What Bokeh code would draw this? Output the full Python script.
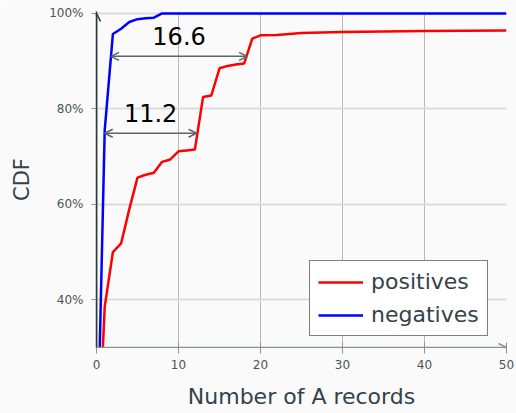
from bokeh.plotting import figure
from bokeh.models import (ColumnDataSource, Arrow, OpenHead, FixedTicker, NumeralTickFormatter,
                          Legend, LegendItem, LabelSet, Range1d)
from bokeh.core.properties import value
from bokeh.embed import file_html
from bokeh.resources import INLINE

# ---- data ----
pos_x = [0, 1, 2, 3, 4, 5, 6, 7, 8, 9, 10, 11, 12, 13, 14, 15, 16, 17, 18, 19, 20, 22, 25, 30, 40, 50]
pos_y = [0.0, 0.385, 0.50, 0.518, 0.59, 0.656, 0.662, 0.666, 0.689, 0.694, 0.711, 0.713, 0.715,
         0.825, 0.828, 0.885, 0.890, 0.893, 0.895, 0.947, 0.954, 0.955, 0.959, 0.961, 0.963, 0.964]
neg_x = [0, 1, 2, 3, 4, 5, 6, 7, 8, 50]
neg_y = [0.0, 0.755, 0.957, 0.968, 0.982, 0.988, 0.990, 0.991, 1.0, 1.0]

gap_labels = ["11.2", "16.6"]
gap_values = [11.2, 16.6]
gap_start = [1.0, 1.77]
gap_level = [0.749, 0.910]

x_ticks = [0, 10, 20, 30, 40, 50]
y_ticks = [0.4, 0.6, 0.8, 1.0]
x_lo, x_hi = 0, 50
y_lo, y_hi = 0.3, 1.004

FONT = "DejaVu Sans"
BG = "#fafafa"
TXT = "#34424a"

p = figure(width=516, height=413, output_backend="svg", toolbar_location=None,
           x_range=Range1d(x_lo, x_hi), y_range=Range1d(y_lo, y_hi),
           min_border_left=96, min_border_right=10, min_border_top=11, min_border_bottom=66,
           background_fill_color=BG, border_fill_color=BG)
p.outline_line_color = None

# grid
p.xgrid.ticker = FixedTicker(ticks=x_ticks)
p.ygrid.ticker = FixedTicker(ticks=y_ticks)
p.xgrid.grid_line_color = "#b8b8b8"
p.xgrid.grid_line_width = 1
p.ygrid.grid_line_color = "#dcdcdc"
p.ygrid.grid_line_width = 2

# axes
p.xaxis.ticker = FixedTicker(ticks=x_ticks)
p.yaxis.ticker = FixedTicker(ticks=y_ticks)
p.yaxis.formatter = NumeralTickFormatter(format="0%")
p.xaxis.axis_label = "Number of A records"
p.yaxis.axis_label = "CDF"
for ax in (p.xaxis[0], p.yaxis[0]):
    ax.axis_label_text_font = FONT
    ax.axis_label_text_font_style = "normal"
    ax.axis_label_text_color = TXT
    ax.major_label_text_font = FONT
    ax.major_label_text_font_size = "12px"
    ax.major_label_text_color = "#4a5656"
    ax.minor_tick_line_color = None
    ax.major_tick_line_color = "#8a9494"
p.xaxis.axis_label_text_font_size = "22px"
p.yaxis.axis_label_text_font_size = "21px"
p.xaxis.axis_line_color = "#8a9494"
p.yaxis.axis_line_color = "#2d3b3b"
p.yaxis.axis_line_width = 1.5
p.xaxis.major_tick_in = 5
p.xaxis.major_tick_out = 6
p.yaxis.major_tick_in = 0
p.yaxis.major_tick_out = 5
p.xaxis.major_label_standoff = 6
p.xaxis.axis_label_standoff = 12
p.yaxis.major_label_standoff = 8
p.yaxis.axis_label_standoff = 12

# axis arrowheads
p.add_layout(Arrow(x_start=x_lo, y_start=y_lo, x_end=x_lo, y_end=1.0, line_color="#2d3b3b", line_width=1.5,
                   end=OpenHead(size=8, line_color="#2d3b3b", line_width=1.5)))
p.add_layout(Arrow(x_start=x_lo, y_start=y_lo, x_end=x_hi, y_end=y_lo, line_color="#8a9494", line_width=1.5,
                   end=OpenHead(size=8, line_color="#8a9494", line_width=1.5)))

# curves
r_pos = p.line(pos_x, pos_y, line_color="#ff0000", line_width=2.5)
r_neg = p.line(neg_x, neg_y, line_color="#0000ff", line_width=2.5)

# gap arrows
gsrc = ColumnDataSource(dict(
    x0=gap_start,
    x1=[s + v for s, v in zip(gap_start, gap_values)],
    xm=[s + v / 2 for s, v in zip(gap_start, gap_values)],
    y=gap_level,
    txt=gap_labels))
p.add_layout(Arrow(x_start="x0", y_start="y", x_end="x1", y_end="y", source=gsrc,
                   line_color="#5c6668", line_width=1.5,
                   start=OpenHead(size=8, line_color="#5c6668", line_width=1.5),
                   end=OpenHead(size=8, line_color="#5c6668", line_width=1.5)))
p.add_layout(LabelSet(x="xm", y="y", text="txt", source=gsrc, text_align="center",
                      text_baseline="alphabetic", y_offset=11, text_font=value(FONT),
                      text_font_size="24px", text_color="#000000"))

legend = Legend(items=[LegendItem(label="positives", renderers=[r_pos]),
                       LegendItem(label="negatives", renderers=[r_neg])],
                location=(213, 11))
legend.label_text_font = FONT
legend.label_text_font_size = "22px"
legend.label_text_color = TXT
legend.glyph_width = 45
legend.glyph_height = 20
legend.label_height = 20
legend.label_standoff = 8
legend.spacing = 8
legend.padding = 8
legend.margin = 0
legend.border_line_color = "#000000"
legend.border_line_width = 1
legend.background_fill_color = "#ffffff"
legend.background_fill_alpha = 1
p.add_layout(legend)

open("out.html", "w").write(file_html(p, INLINE))
